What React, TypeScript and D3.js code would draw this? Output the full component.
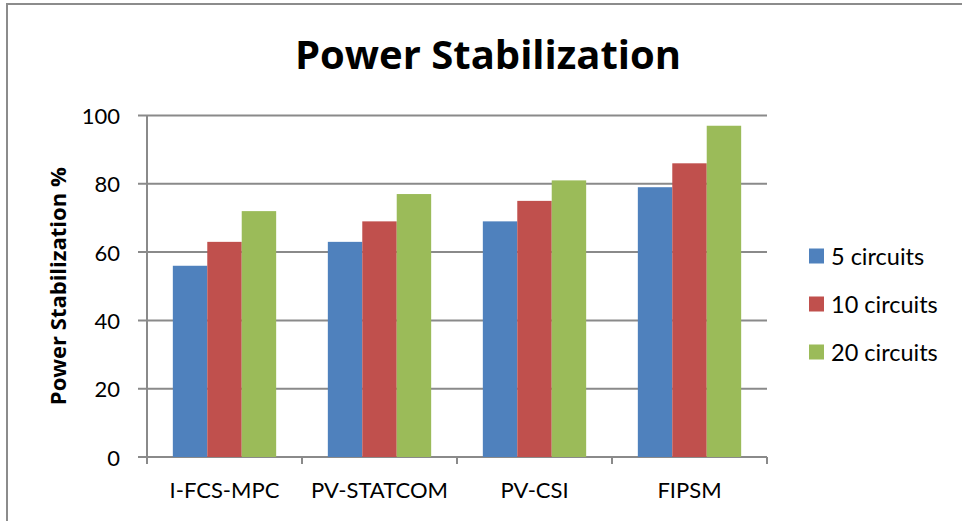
import * as d3 from "d3";

const categories = ["I-FCS-MPC", "PV-STATCOM", "PV-CSI", "FIPSM"];
const seriesNames = ["5 circuits", "10 circuits", "20 circuits"];
const fiveCircuits = [56, 63, 69, 79];
const tenCircuits = [63, 69, 75, 86];
const twentyCircuits = [72, 77, 81, 97];
const yTicks = [0, 20, 40, 60, 80, 100];
const seriesColors = ["#4F81BD", "#C0504D", "#9BBB59"];

const seriesValues = [fiveCircuits, tenCircuits, twentyCircuits];

export default function App() {
  const width = 962;
  const height = 521;
  const plot = { left: 147, right: 767, top: 115.5, bottom: 457 };
  const font = "Lato, 'Open Sans', sans-serif";
  const boldFont = "'Open Sans', Lato, sans-serif";
  const gridColor = "#8a8a8a";

  const x = d3.scaleBand().domain(categories).range([plot.left, plot.right]).padding(0);
  const xSub = d3
    .scaleBand()
    .domain(seriesNames)
    .range([0, x.bandwidth()])
    .paddingInner(0)
    .paddingOuter(0.75);
  const y = d3.scaleLinear().domain([0, 100]).range([plot.bottom, plot.top]);

  const legendY = d3.scalePoint().domain(seriesNames).range([256, 352]);

  const boundaries = [...categories.map((c) => x(c) ?? 0), plot.right];

  return (
    <svg
      width={width}
      height={height}
      style={{ position: "absolute", left: 0, top: 0, background: "#fff" }}
      fontFamily={font}
    >
      {/* chart border (top + left only visible) */}
      <path d={`M7,${height} V4 H${width}`} fill="none" stroke="#8c8c8c" strokeWidth={2} />

      <text
        x={488}
        y={69}
        textAnchor="middle"
        fontFamily={boldFont}
        fontSize={40}
        fontWeight={700}
        fill="#000"
      >
        Power Stabilization
      </text>

      {/* gridlines + y ticks */}
      {yTicks.map((t) => (
        <g key={t}>
          <line x1={138} x2={plot.right} y1={y(t)} y2={y(t)} stroke={gridColor} strokeWidth={2} />
          <text
            x={120}
            y={y(t)}
            textAnchor="end"
            dominantBaseline="central"
            fontSize={22}
            fill="#000"
          >
            {t}
          </text>
        </g>
      ))}

      {/* bars */}
      {categories.map((c, ci) => (
        <g key={c} transform={`translate(${x(c)},0)`}>
          {seriesNames.map((s, si) => {
            const v = seriesValues[si][ci];
            return (
              <rect
                key={s}
                x={xSub(s)}
                y={y(v)}
                width={xSub.bandwidth()}
                height={y(0) - y(v)}
                fill={seriesColors[si]}
              />
            );
          })}
        </g>
      ))}

      {/* axes */}
      <line x1={plot.left} x2={plot.left} y1={plot.top} y2={464} stroke={gridColor} strokeWidth={2} />
      {boundaries.map((b, i) => (
        <line key={i} x1={b} x2={b} y1={plot.bottom} y2={464} stroke={gridColor} strokeWidth={2} />
      ))}

      {categories.map((c) => (
        <text
          key={c}
          x={(x(c) ?? 0) + x.bandwidth() / 2}
          y={498}
          textAnchor="middle"
          fontSize={22}
          fill="#000"
        >
          {c}
        </text>
      ))}

      <text
        transform={`translate(66,${(plot.top + plot.bottom) / 2}) rotate(-90)`}
        textAnchor="middle"
        fontFamily={boldFont}
        fontSize={22}
        fontWeight={700}
        fill="#000"
      >
        Power Stabilization %
      </text>

      {/* legend */}
      {seriesNames.map((s, i) => (
        <g key={s} transform={`translate(809,${legendY(s)})`}>
          <rect x={0} y={-7.5} width={15} height={15} fill={seriesColors[i]} />
          <text x={22} y={0} dominantBaseline="central" fontSize={23.5} fill="#000">
            {s}
          </text>
        </g>
      ))}
    </svg>
  );
}
